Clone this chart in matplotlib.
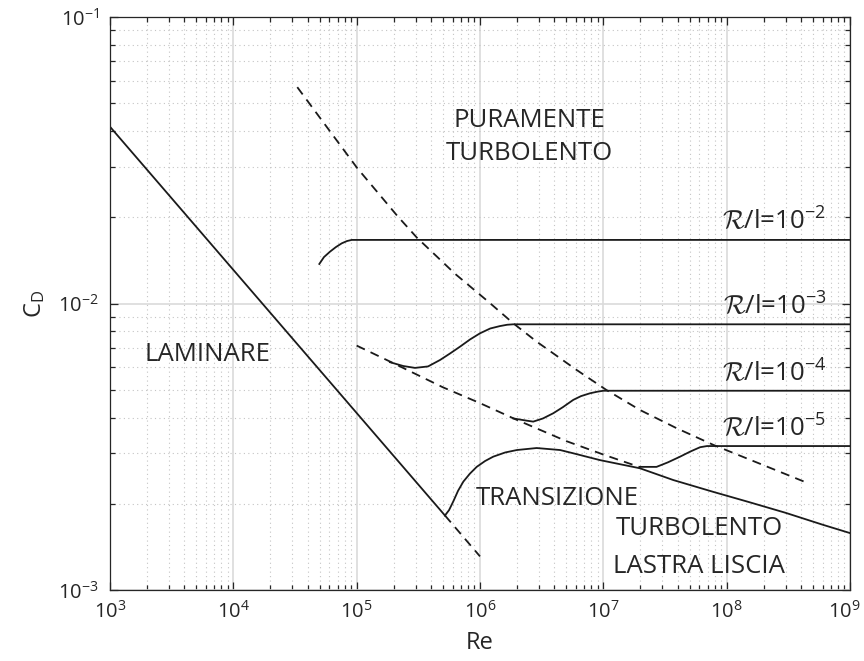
import matplotlib
matplotlib.use("Agg")
import matplotlib.pyplot as plt
from matplotlib.ticker import LogLocator, NullFormatter
from matplotlib.transforms import ScaledTranslation

plt.rcParams['font.family'] = ['Open Sans', 'DejaVu Sans']
plt.rcParams['mathtext.fontset'] = 'custom'
plt.rcParams['mathtext.rm'] = 'Open Sans'
plt.rcParams['mathtext.it'] = 'Open Sans:italic'
plt.rcParams['mathtext.sf'] = 'Open Sans'
plt.rcParams['mathtext.cal'] = 'cmsy10'

# laminar (solid part + dashed extension)
re_lam = [1e3, 5.2e5]
cd_lam = [0.0414, 0.00182]
re_lam_ext = [5.2e5, 1e6]
cd_lam_ext = [0.00182, 0.00131]

# transition + smooth turbulent plate
re_smooth = [5.2e5, 5.61e5, 6.08e5, 6.64e5, 7.33e5, 8.3e5, 9.4e5, 1.1e6, 1.28e6, 1.6e6,
             1.99e6, 2.88e6, 4.46e6, 5.71e6, 9.4e6, 1.98e7, 3.69e7, 7.8e7, 1.5e8,
             3e8, 6e8, 1e9]
cd_smooth = [0.00182, 0.00190, 0.00204, 0.00222, 0.00239, 0.00255, 0.00269, 0.00282, 0.00292, 0.00302,
             0.00308, 0.00313, 0.00308, 0.00300, 0.00284, 0.00266, 0.00242, 0.00220, 0.00203,
             0.00186, 0.00169, 0.00158]

# smooth turbulent extension (dashed)
re_smooth_ext = [1e5, 2e5, 5e5, 1e6, 2e6, 5e6, 1e7, 2e7]
cd_smooth_ext = [0.00713, 0.00618, 0.00510, 0.00449, 0.00392, 0.00331, 0.00297, 0.00268]

# limit of fully rough regime (dashed)
re_rough = [3.3e4, 1.01e5, 2.14e5, 3.07e5, 6.27e5, 1.17e6, 1.86e6, 2.88e6, 6.08e6,
            1.06e7, 1.98e7, 3.93e7, 7.8e7, 4.24e8]
cd_rough = [0.0569, 0.0297, 0.0202, 0.0170, 0.0127, 0.01014, 0.00853, 0.00736, 0.00586,
            0.00499, 0.00425, 0.00367, 0.00321, 0.00239]

# rough plates, R/l
re_r2 = [4.98e4, 5.43e4, 6.08e4, 6.79e4, 7.57e4, 8.35e4, 9.12e4, 1e9]
cd_r2 = [0.01374, 0.01452, 0.01517, 0.01574, 0.01622, 0.01652, 0.01667, 0.01667]

re_r3 = [1.86e5, 2.39e5, 2.97e5, 3.79e5, 4.74e5, 5.71e5, 6.89e5, 8.3e5, 1e6, 1.21e6,
         1.45e6, 1.66e6, 1.86e6, 1e9]
cd_r3 = [0.00624, 0.00605, 0.00596, 0.00603, 0.00635, 0.00669, 0.00707, 0.00749, 0.00787, 0.00818,
         0.00834, 0.00843, 0.00846, 0.00846]

re_r4 = [1.86e6, 2.39e6, 2.7e6, 3.24e6, 3.93e6, 4.71e6, 5.71e6, 6.59e6, 7.8e6, 8.89e6, 1e7, 1e9]
cd_r4 = [0.00397, 0.00390, 0.00387, 0.00397, 0.00414, 0.00435, 0.00461, 0.00475, 0.00486, 0.00492,
         0.00496, 0.00496]

re_r5 = [1.98e7, 2.7e7, 3.34e7, 4.19e7, 5.05e7, 6.08e7, 6.93e7, 7.8e7, 1e9]
cd_r5 = [0.00269, 0.00269, 0.00279, 0.00292, 0.00304, 0.00315, 0.00318, 0.00318, 0.00318]

x_ticks = [1e3, 1e4, 1e5, 1e6, 1e7, 1e8, 1e9]
y_ticks = [1e-3, 1e-2, 1e-1]

rough_labels = [r'$\mathcal{R}$/l=10$^{-2}$', r'$\mathcal{R}$/l=10$^{-3}$',
                r'$\mathcal{R}$/l=10$^{-4}$', r'$\mathcal{R}$/l=10$^{-5}$']
rough_label_y = [0.01805, 0.00912, 0.00533, 0.00343]

fig = plt.figure(figsize=(8.64, 6.61), dpi=100)
ax = fig.add_axes([110/864, 1 - 590/661, 740/864, 573/661])

lc = '#1a1a1a'
lw = 1.3
dash = (0, (5, 3.5))
ax.plot(re_lam, cd_lam, color=lc, lw=lw)
ax.plot(re_lam_ext, cd_lam_ext, color=lc, lw=lw, linestyle=dash)
ax.plot(re_smooth, cd_smooth, color=lc, lw=lw)
ax.plot(re_smooth_ext, cd_smooth_ext, color=lc, lw=lw, linestyle=dash)
ax.plot(re_rough, cd_rough, color=lc, lw=lw, linestyle=dash)
for re, cd in [(re_r2, cd_r2), (re_r3, cd_r3), (re_r4, cd_r4), (re_r5, cd_r5)]:
    ax.plot(re, cd, color=lc, lw=lw)

ax.set_xscale('log')
ax.set_yscale('log')
ax.set_xlim(1e3, 1e9)
ax.set_ylim(1e-3, 1e-1)
ax.set_xticks(x_ticks)
ax.set_yticks(y_ticks)
ax.xaxis.set_minor_locator(LogLocator(base=10, subs=range(2, 10), numticks=20))
ax.yaxis.set_minor_locator(LogLocator(base=10, subs=range(2, 10), numticks=20))
ax.xaxis.set_minor_formatter(NullFormatter())
ax.yaxis.set_minor_formatter(NullFormatter())

ax.grid(which='major', color='#dadada', linestyle='-', linewidth=1.2)
ax.grid(which='minor', color='#c4c4c4', linestyle=(0, (1, 3)), linewidth=0.8)
ax.set_axisbelow(True)

tc = '#262626'
ax.tick_params(which='both', direction='in', top=True, right=True, colors=tc,
               labelsize=14.5, width=0.9)
ax.tick_params(which='major', length=5.5, pad=8)
ax.tick_params(which='minor', length=3.5)
for s in ax.spines.values():
    s.set_color(tc)
    s.set_linewidth(0.9)

# keep the last x tick label (10^9) inside the figure
last = ax.xaxis.get_major_ticks()[-1].label1
last.set_transform(last.get_transform() + ScaledTranslation(-4/72, 0, fig.dpi_scale_trans))

ax.set_xlabel('Re', fontsize=17, color=tc, labelpad=6)
ax.set_ylabel(r'C$_\mathregular{D}$', fontsize=17, color=tc, labelpad=8)

fs = 18.5
ax.text(2.5e6, 0.0437, 'PURAMENTE', fontsize=fs, color=tc, ha='center', va='center')
ax.text(2.5e6, 0.0333, 'TURBOLENTO', fontsize=fs, color=tc, ha='center', va='center')
ax.text(6.18e3, 0.00663, 'LAMINARE', fontsize=fs, color=tc, ha='center', va='center')
ax.text(4.21e6, 0.00209, 'TRANSIZIONE', fontsize=fs, color=tc, ha='center', va='center')
ax.text(5.97e7, 0.00164, 'TURBOLENTO', fontsize=fs, color=tc, ha='center', va='center')
ax.text(5.97e7, 0.00121, 'LASTRA LISCIA', fontsize=fs, color=tc, ha='center', va='center')
for lab, y in zip(rough_labels, rough_label_y):
    ax.text(6.4e8, y, lab, fontsize=18.5, color=tc, ha='right', va='baseline')

fig.savefig('out.png', dpi=100)
